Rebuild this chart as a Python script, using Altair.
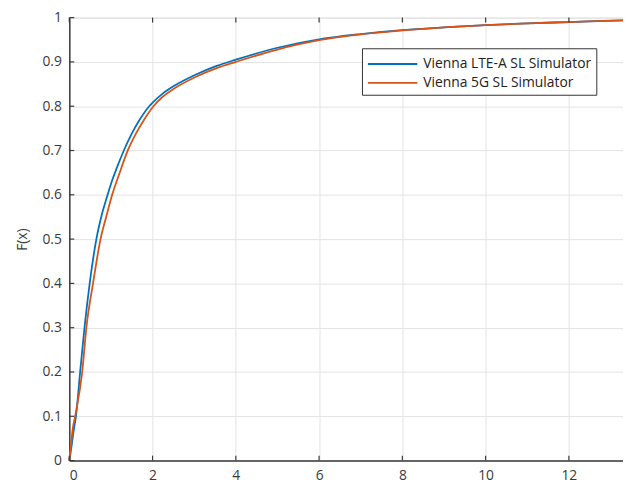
import altair as alt
import pandas as pd

# LTE-A series (blue)
lte_x = [0, 0.05, 0.1, 0.16, 0.26, 0.365, 0.49, 0.65, 0.78, 0.92, 1.02, 1.15, 1.31, 1.5, 1.7,
         1.92, 2.0, 2.25, 2.52, 3.03, 3.54, 4.0, 5.0, 6.0, 7.0, 8.0, 9.0, 10.0, 11.0, 12.0, 13.3]
lte_y = [0, 0.03, 0.065, 0.1, 0.2, 0.3, 0.4, 0.5, 0.555, 0.6, 0.63, 0.663, 0.7, 0.738, 0.771,
         0.8, 0.808, 0.829, 0.846, 0.871, 0.891, 0.905, 0.932, 0.951, 0.963, 0.972, 0.978, 0.983, 0.987, 0.99, 0.994]

# 5G series (orange)
g5_x = [0, 0.04, 0.08, 0.14, 0.31, 0.41, 0.57, 0.75, 0.9, 1.03, 1.2, 1.4, 1.6, 1.8,
        2.02, 2.25, 2.52, 3.03, 3.54, 4.0, 5.0, 6.0, 7.0, 8.0, 9.0, 10.0, 11.0, 12.0, 13.3]
g5_y = [0, 0.035, 0.07, 0.1, 0.2, 0.3, 0.4, 0.5, 0.555, 0.6, 0.647, 0.699, 0.738, 0.77,
        0.8, 0.822, 0.84, 0.866, 0.886, 0.9, 0.928, 0.949, 0.962, 0.971, 0.978, 0.983, 0.987, 0.99, 0.994]

series_names = ["Vienna LTE-A SL Simulator", "Vienna 5G SL Simulator"]
series_colors = ["#0072BD", "#D95319"]

x_ticks = [0, 2, 4, 6, 8, 10, 12]
y_ticks = [0, 0.1, 0.2, 0.3, 0.4, 0.5, 0.6, 0.7, 0.8, 0.9, 1.0]

rows = []
for i, (xs, ys) in enumerate([(lte_x, lte_y), (g5_x, g5_y)]):
    for k, (a, b) in enumerate(zip(xs, ys)):
        rows.append({"x": a, "y": b, "series": series_names[i], "order": k})
df = pd.DataFrame(rows)

W, H = 560, 448
FONT = "Open Sans"
AXC = "#3a3a3a"
TXT = "#3a3a3a"

xscale = alt.Scale(domain=[0, 13.3], nice=False, zero=False)
yscale = alt.Scale(domain=[0, 1], nice=False)

xaxis = alt.Axis(values=x_ticks, title=None, grid=True, tickSize=0,
                 labelPadding=8, labelFontSize=14, labelFont=FONT, labelColor=TXT,
                 domainColor=AXC, domainWidth=1.5, gridColor="#e3e3e3", gridWidth=1)
yaxis = alt.Axis(values=y_ticks, title="F(x)", grid=True, tickSize=0,
                 labelPadding=8, labelFontSize=14, labelFont=FONT, labelColor=TXT,
                 titleFont=FONT, titleFontSize=14, titleFontWeight="normal",
                 titleColor=TXT, titlePadding=13,
                 domainColor=AXC, domainWidth=1.5, gridColor="#e3e3e3", gridWidth=1,
                 format=".1~f")

lines = alt.Chart(df).mark_line(strokeWidth=1.8, interpolate="monotone").encode(
    x=alt.X("x:Q", scale=xscale, axis=xaxis),
    y=alt.Y("y:Q", scale=yscale, axis=yaxis),
    color=alt.Color("series:N",
                    scale=alt.Scale(domain=series_names, range=series_colors),
                    legend=alt.Legend(title=None, orient="none", legendX=296, legendY=31,
                                      symbolType="M-1,0H4", symbolSize=400, symbolStrokeWidth=2,
                                      labelOffset=35,
                                      labelFont=FONT, labelFontSize=14, labelColor="#222222",
                                      strokeColor="#333333", fillColor="white", padding=5,
                                      rowPadding=1, labelLimit=300)),
    order="order:Q",
)

xt = pd.DataFrame({"x": x_ticks})
yt = pd.DataFrame({"y": y_ticks})

xticks_bottom = alt.Chart(xt).mark_rule(color=AXC, strokeWidth=1.2).encode(
    x=alt.X("x:Q", scale=xscale, axis=xaxis),
    y=alt.value(H), y2=alt.value(H - 5))
xticks_top = alt.Chart(xt).mark_rule(color=AXC, strokeWidth=1.2).encode(
    x=alt.X("x:Q", scale=xscale, axis=xaxis),
    y=alt.value(0), y2=alt.value(5))
yticks_left = alt.Chart(yt).mark_rule(color=AXC, strokeWidth=1.2).encode(
    y=alt.Y("y:Q", scale=yscale, axis=yaxis),
    x=alt.value(0), x2=alt.value(5))

chart = alt.layer(lines, xticks_bottom, xticks_top, yticks_left).properties(
    width=W, height=H,
    autosize=alt.AutoSizeParams(type="none"),
    padding={"left": 62, "top": 7, "right": 0, "bottom": 25},
).configure_view(stroke=AXC, strokeWidth=1.5).configure(background="white")

chart.save("out.html", embed_options={"renderer": "svg", "actions": False})
